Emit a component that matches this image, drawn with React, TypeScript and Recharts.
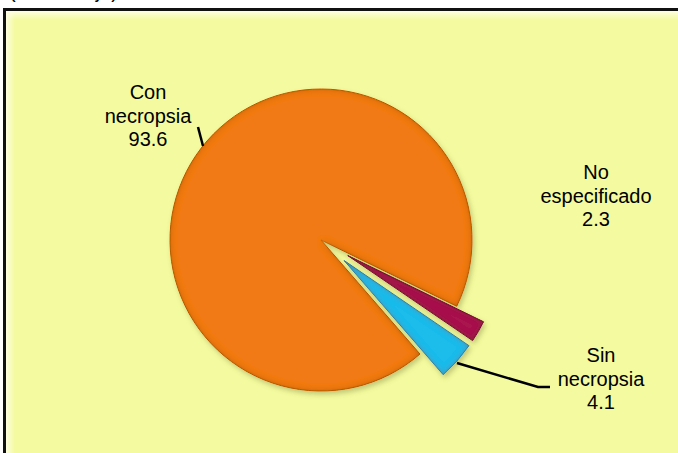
import React from 'react';
import { PieChart, Pie, Cell } from 'recharts';

const categories = ['Con necropsia', 'Sin necropsia', 'No especificado'];
const values = [93.6, 4.1, 2.3];
const valueLabels = ['93.6', '4.1', '2.3'];
const labelWords = [['Con', 'necropsia'], ['Sin', 'necropsia'], ['No', 'especificado']];
const colors = ['#F27A12', '#1EBCEB', '#A8124E'];
const edgeColors = ['#C9640E', '#1593BC', '#7E0C3A'];
const exploded = [false, true, true];

const W = 678;
const H = 453;
const CX = 321;
const CY = 240;
const R = 151;
const START = -26;
const EXPLODE = 31;
const FONT = '"Liberation Sans", Arial, sans-serif';

// label layout (offsets from pie centre), not data
const labelPos = [
  { dx: -173, dy: -141 },
  { dx: 280, dy: 122 },
  { dx: 275, dy: -61 },
];
const leaderLines: number[][][] = [
  [[-118, -94], [-123, -113]],
  [[136, 123], [217, 147], [229, 147]],
  [],
];

const data = categories.map((name, i) => ({ name, value: values[i] }));
const total = values.reduce((a, b) => a + b, 0);

const offsets = values.map((v, i) => {
  const cum = values.slice(0, i).reduce((a, b) => a + b, 0);
  const mid = ((START + ((cum + v / 2) / total) * 360) * Math.PI) / 180;
  const d = exploded[i] ? EXPLODE : 0;
  return { dx: Math.cos(mid) * d, dy: -Math.sin(mid) * d };
});

const renderLabel = (props: any) => {
  const { cx, cy, index } = props;
  const p = labelPos[index];
  const x = cx + p.dx;
  const y0 = cy + p.dy;
  const lines = [...labelWords[index], valueLabels[index]];
  const pts = leaderLines[index];
  return (
    <g key={`lbl-${index}`}>
      {pts.length > 1 && (
        <polyline
          points={pts.map(([a, b]) => `${cx + a},${cy + b}`).join(' ')}
          fill="none"
          stroke="#000"
          strokeWidth={2.5}
        />
      )}
      <text x={x} y={y0} textAnchor="middle" fontFamily={FONT} fontSize={20} fill="#000">
        {lines.map((t, k) => (
          <tspan key={k} x={x} y={y0 + k * 23.5}>
            {t}
          </tspan>
        ))}
      </text>
    </g>
  );
};

export default function App() {
  return (
    <div style={{ position: 'absolute', left: 0, top: 0, width: W, height: H, overflow: 'hidden' }}>
      <svg width={0} height={0} style={{ position: 'absolute' }}>
        <defs>
          <filter id="bevel" x="-20%" y="-20%" width="140%" height="140%">
            <feGaussianBlur in="SourceAlpha" stdDeviation="3" result="blur" />
            <feComposite in="SourceAlpha" in2="blur" operator="arithmetic" k2="1" k3="-1" result="edge" />
            <feFlood floodColor="#5a2a00" floodOpacity="0.55" result="dark" />
            <feComposite in="dark" in2="edge" operator="in" result="darkEdge" />
            <feOffset in="SourceAlpha" dx="2" dy="3" result="off" />
            <feGaussianBlur in="off" stdDeviation="2.5" result="offBlur" />
            <feFlood floodColor="#6b6b2a" floodOpacity="0.35" result="shc" />
            <feComposite in="shc" in2="offBlur" operator="in" result="shadow" />
            <feMerge>
              <feMergeNode in="shadow" />
              <feMergeNode in="SourceGraphic" />
              <feMergeNode in="darkEdge" />
            </feMerge>
          </filter>
        </defs>
      </svg>
      <div
        style={{
          position: 'absolute',
          left: 0,
          top: -19,
          fontFamily: FONT,
          fontSize: 20,
          color: '#000',
          paddingLeft: 9,
          lineHeight: '20px',
        }}
      >
        (Porcentaje)
      </div>
      <div
        style={{
          position: 'absolute',
          left: 3,
          top: 8,
          width: 700,
          height: 460,
          boxSizing: 'border-box',
          borderLeft: '3px solid #111',
          borderTop: '3px solid #111',
          background:
            'linear-gradient(to bottom, rgba(255,255,228,0.95) 0px, rgba(255,255,228,0) 9px), linear-gradient(to right, rgba(255,255,228,0.9) 0px, rgba(255,255,228,0) 9px), #F3FA9F',
        }}
      />
      <div style={{ position: 'absolute', left: 0, top: 0 }}>
        <PieChart width={W} height={H} margin={{ top: 0, right: 0, bottom: 0, left: 0 }}>
          {values.map((_, si) => (
            <Pie
              key={si}
              data={data}
              dataKey="value"
              nameKey="name"
              cx={CX + offsets[si].dx}
              cy={CY + offsets[si].dy}
              outerRadius={R}
              innerRadius={0}
              startAngle={START}
              endAngle={START + 360}
              isAnimationActive={false}
              label={si === 0 ? renderLabel : false}
              labelLine={false}
            >
              {data.map((d, ci) => (
                <Cell
                  key={d.name}
                  fill={ci === si ? colors[ci] : 'none'}
                  stroke={ci === si ? edgeColors[ci] : 'none'}
                  strokeWidth={ci === si ? 1 : 0}
                  filter={ci === si ? 'url(#bevel)' : undefined}
                />
              ))}
            </Pie>
          ))}
        </PieChart>
      </div>
    </div>
  );
}
